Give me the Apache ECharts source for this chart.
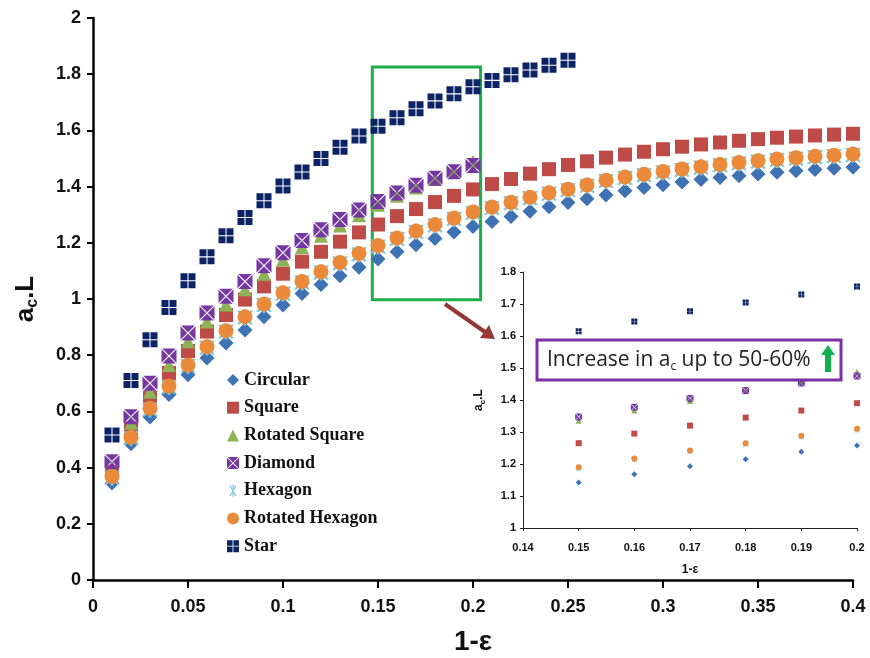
<!DOCTYPE html>
<html lang="en">
<head>
    <meta charset="UTF-8">
    <title>ac.L vs 1-ε</title>
    <script src="https://cdn.jsdelivr.net/npm/echarts@6.0.0/dist/echarts.min.js"></script>
    <style>
        html, body { margin: 0; padding: 0; background: #fff; }
        #chart { width: 870px; height: 658px; }
    </style>
</head>
<body>
    <div id="chart"></div>

    <script>
        // x positions (1-ε)
        var xLong = [0.01, 0.02, 0.03, 0.04, 0.05, 0.06, 0.07, 0.08, 0.09, 0.10,
                     0.11, 0.12, 0.13, 0.14, 0.15, 0.16, 0.17, 0.18, 0.19, 0.20,
                     0.21, 0.22, 0.23, 0.24, 0.25, 0.26, 0.27, 0.28, 0.29, 0.30,
                     0.31, 0.32, 0.33, 0.34, 0.35, 0.36, 0.37, 0.38, 0.39, 0.40];

        // ac.L values
        var circular = [0.345, 0.485, 0.58, 0.66, 0.73, 0.79, 0.843, 0.89, 0.937, 0.979,
                        1.02, 1.052, 1.083, 1.113, 1.142, 1.168, 1.193, 1.215, 1.238, 1.258,
                        1.276, 1.294, 1.312, 1.328, 1.343, 1.357, 1.37, 1.385, 1.397, 1.407,
                        1.416, 1.425, 1.432, 1.439, 1.445, 1.451, 1.456, 1.461, 1.465, 1.469];
        var square = [0.385, 0.54, 0.648, 0.737, 0.815, 0.884, 0.943, 0.998, 1.045, 1.09,
                      1.133, 1.168, 1.204, 1.237, 1.265, 1.295, 1.32, 1.345, 1.367, 1.39,
                      1.409, 1.427, 1.446, 1.462, 1.477, 1.49, 1.503, 1.514, 1.524, 1.533,
                      1.542, 1.55, 1.557, 1.563, 1.569, 1.574, 1.578, 1.582, 1.585, 1.588];
        var rotatedSquare = [0.40, 0.56, 0.67, 0.765, 0.85, 0.92, 0.98, 1.035, 1.09, 1.14,
                             1.185, 1.225, 1.262, 1.298, 1.335, 1.367, 1.397, 1.427, 1.457, 1.488];
        var diamond = [0.421, 0.581, 0.70, 0.797, 0.879, 0.95, 1.01, 1.062, 1.118, 1.165,
                       1.208, 1.246, 1.283, 1.317, 1.347, 1.377, 1.405, 1.43, 1.453, 1.475];
        var hexagon = [0.364, 0.505, 0.607, 0.687, 0.762, 0.827, 0.884, 0.934, 0.979, 1.019,
                       1.059, 1.094, 1.127, 1.159, 1.187, 1.214, 1.239, 1.262, 1.285, 1.307,
                       1.324, 1.341, 1.359, 1.375, 1.388, 1.403, 1.42, 1.431, 1.441, 1.451,
                       1.46, 1.468, 1.476, 1.483, 1.489, 1.495, 1.5, 1.505, 1.509, 1.513];
        var rotatedHexagon = [0.368, 0.508, 0.611, 0.69, 0.765, 0.83, 0.887, 0.937, 0.982, 1.022,
                              1.062, 1.097, 1.13, 1.162, 1.19, 1.217, 1.242, 1.265, 1.288, 1.31,
                              1.327, 1.344, 1.362, 1.378, 1.391, 1.406, 1.423, 1.434, 1.444, 1.454,
                              1.463, 1.471, 1.479, 1.486, 1.492, 1.498, 1.503, 1.508, 1.512, 1.516];
        var star = [0.516, 0.71, 0.855, 0.97, 1.065, 1.15, 1.225, 1.29, 1.35, 1.402,
                    1.452, 1.50, 1.54, 1.58, 1.615, 1.645, 1.677, 1.705, 1.73, 1.755,
                    1.778, 1.798, 1.815, 1.832, 1.85];

        var xTicksMain = [0, 0.4, 0.05];
        var yTicksMain = [0, 2, 0.2];
        var xTicksInset = [0.14, 0.2, 0.01];
        var yTicksInset = [1, 1.8, 0.1];
        var zoomBox = [[0.147, 1.826], [0.204, 0.997]];

        // symbol shapes
        var starPath = 'path://M0,0H9.3V9.3H0Z M10.7,0H20V9.3H10.7Z M0,10.7H9.3V20H0Z M10.7,10.7H20V20H10.7Z';
        var diamondPath = 'path://M1,0L19,0L10,9Z M20,1L20,19L11,10Z M19,20L1,20L10,11Z M0,19L0,1L9,10Z';
        var asteriskPath = 'path://M9,0L11,0L11,20L9,20Z M4.13,1.84L14.13,19.16L15.87,18.16L5.87,0.84Z M15.87,1.84L5.87,19.16L4.13,18.16L14.13,0.84Z';

        var shapes = [
            { name: 'Circular', data: circular, color: '#3f72b3', symbol: 'diamond', size: 15, small: 6 },
            { name: 'Square', data: square, color: '#be4b48', symbol: 'rect', size: 14, small: 6 },
            { name: 'Rotated Square', data: rotatedSquare, color: '#8db356', symbol: 'triangle', size: 14, small: 6 },
            { name: 'Diamond', data: diamond, color: '#7538a3', symbol: diamondPath, size: 15, small: 7 },
            { name: 'Hexagon', data: hexagon, color: '#7fc7dc', symbol: asteriskPath, size: 16, small: 6 },
            { name: 'Rotated Hexagon', data: rotatedHexagon, color: '#ea8a3a', symbol: 'circle', size: 15, small: 6 },
            { name: 'Star', data: star, color: '#0c2466', symbol: starPath, size: 15, small: 6 }
        ];

        function pairs(vals) {
            return vals.map(function (v, i) { return [xLong[i], v]; });
        }

        var labelFont = "'Liberation Sans', Arial, sans-serif";

        var series = [];
        shapes.forEach(function (s) {
            series.push({
                name: s.name,
                type: 'scatter',
                xAxisIndex: 0,
                yAxisIndex: 0,
                symbol: s.symbol,
                symbolSize: s.size,
                itemStyle: { color: s.color, opacity: 1 },
                data: pairs(s.data)
            });
        });
        shapes.forEach(function (s) {
            series.push({
                name: s.name,
                type: 'scatter',
                xAxisIndex: 1,
                yAxisIndex: 1,
                symbol: s.symbol,
                symbolSize: s.small,
                itemStyle: { color: s.color, opacity: 1 },
                data: pairs(s.data).filter(function (p) { return p[0] > 0.145 && p[0] < 0.205; })
            });
        });
        // green zoom rectangle
        series.push({
            type: 'scatter',
            xAxisIndex: 0,
            yAxisIndex: 0,
            data: [],
            silent: true,
            markArea: {
                silent: true,
                itemStyle: { color: 'rgba(0,0,0,0)', borderColor: '#1fae4b', borderWidth: 3 },
                data: [[{ coord: zoomBox[0] }, { coord: zoomBox[1] }]]
            }
        });

        var chart = echarts.init(document.getElementById('chart'), null, { renderer: 'canvas' });
        var option = {
            animation: false,
            backgroundColor: '#fff',
            legend: {
                orient: 'vertical',
                left: 222,
                top: 366,
                itemWidth: 12,
                itemHeight: 12,
                itemGap: 9.7,
                data: shapes.map(function (s) { return s.name; }),
                textStyle: {
                    fontFamily: "'Liberation Serif', 'DejaVu Serif', serif",
                    fontWeight: 'bold',
                    fontSize: 18,
                    lineHeight: 18,
                    color: '#111'
                }
            },
            grid: [
                { left: 93, right: 17, top: 18, bottom: 78, outerBoundsMode: 'none' },
                { left: 523, right: 13, top: 272, bottom: 130, outerBoundsMode: 'none' }
            ],
            xAxis: [{
                type: 'value',
                gridIndex: 0,
                min: xTicksMain[0], max: xTicksMain[1], interval: xTicksMain[2],
                name: '1-ε',
                nameLocation: 'middle',
                nameGap: 48,
                nameTextStyle: { fontFamily: labelFont, fontWeight: 'bold', fontSize: 28, color: '#111' },
                axisLine: { lineStyle: { color: '#000', width: 2.5 } },
                axisTick: { inside: false, length: 8, lineStyle: { color: '#000', width: 2 } },
                axisLabel: { margin: 18, fontFamily: labelFont, fontWeight: 'bold', fontSize: 18, color: '#111' },
                splitLine: { show: false }
            }, {
                type: 'value',
                gridIndex: 1,
                min: xTicksInset[0], max: xTicksInset[1], interval: xTicksInset[2],
                name: '1-ε',
                nameLocation: 'middle',
                nameGap: 36,
                nameTextStyle: { fontFamily: labelFont, fontWeight: 'bold', fontSize: 12, color: '#111' },
                axisLine: { lineStyle: { color: '#222', width: 1 } },
                axisTick: { length: 3, lineStyle: { color: '#222' } },
                axisLabel: { margin: 14, fontFamily: labelFont, fontWeight: 'bold', fontSize: 11, color: '#111' },
                splitLine: { show: false }
            }],
            yAxis: [{
                type: 'value',
                gridIndex: 0,
                min: yTicksMain[0], max: yTicksMain[1], interval: yTicksMain[2],
                name: '{a|a}{s|c}{a|.L}',
                nameLocation: 'middle',
                nameGap: 52,
                nameTextStyle: {
                    rich: {
                        a: { fontFamily: labelFont, fontWeight: 'bold', fontSize: 26, color: '#111', lineHeight: 30 },
                        s: { fontFamily: labelFont, fontWeight: 'bold', fontSize: 16, color: '#111', lineHeight: 30, verticalAlign: 'bottom', padding: [12, 0, 0, 0] }
                    }
                },
                axisLine: { show: true, lineStyle: { color: '#000', width: 2.5 } },
                axisTick: { show: true, length: 6, lineStyle: { color: '#000', width: 2 } },
                axisLabel: { margin: 12, fontFamily: labelFont, fontWeight: 'bold', fontSize: 18, color: '#111',
                    formatter: function (v) { return String(Math.round(v * 10) / 10); } },
                splitLine: { show: false }
            }, {
                type: 'value',
                gridIndex: 1,
                min: yTicksInset[0], max: yTicksInset[1], interval: yTicksInset[2],
                name: '{a|a}{s|c}{a|.L}',
                nameLocation: 'middle',
                nameGap: 36,
                nameTextStyle: {
                    rich: {
                        a: { fontFamily: labelFont, fontWeight: 'bold', fontSize: 12, color: '#111', lineHeight: 16 },
                        s: { fontFamily: labelFont, fontWeight: 'bold', fontSize: 8, color: '#111', lineHeight: 16, verticalAlign: 'bottom' }
                    }
                },
                axisLine: { show: true, lineStyle: { color: '#222', width: 1 } },
                axisTick: { show: true, length: 3, lineStyle: { color: '#222' } },
                axisLabel: { margin: 7, fontFamily: labelFont, fontWeight: 'bold', fontSize: 11, color: '#111',
                    formatter: function (v) { return String(Math.round(v * 10) / 10); } },
                splitLine: { show: false }
            }],
            graphic: [
                // arrow from zoom box to inset
                { type: 'line', z: 100, shape: { x1: 445, y1: 304, x2: 485, y2: 332 },
                  style: { stroke: '#953735', lineWidth: 4 } },
                { type: 'polygon', z: 100, shape: { points: [[495, 339], [480, 338], [489, 325]] },
                  style: { fill: '#953735' } },
                // annotation box
                { type: 'rect', z: 100, shape: { x: 537, y: 340, width: 304, height: 40 },
                  style: { fill: '#fff', stroke: '#7b2fa6', lineWidth: 3 } },
                { type: 'text', z: 101, x: 547, y: 360,
                  style: {
                      text: '{t|Increase in a}{s|c}{t| up to 50-60%}',
                      verticalAlign: 'middle',
                      rich: {
                          t: { fontFamily: "'Open Sans', 'Liberation Sans', sans-serif", fontSize: 21, fill: '#222', lineHeight: 26 },
                          s: { fontFamily: "'Open Sans', 'Liberation Sans', sans-serif", fontSize: 12, fill: '#222', lineHeight: 26, verticalAlign: 'bottom', padding: [10, 0, 0, 0] }
                      }
                  } },
                { type: 'polygon', z: 101,
                  shape: { points: [[828, 345], [835, 355], [831, 355], [831, 372], [825, 372], [825, 355], [821, 355]] },
                  style: { fill: '#12b04f' } }
            ],
            series: series
        };
        chart.setOption(option);
    </script>
</body>
</html>
